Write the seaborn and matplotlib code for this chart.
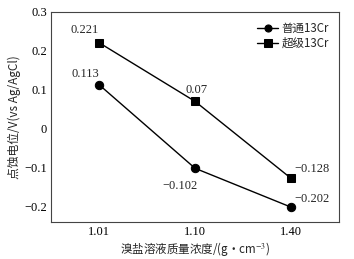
import matplotlib
matplotlib.use("Agg")
import matplotlib.pyplot as plt
import seaborn as sns
import pandas as pd

categories = ["1.01", "1.10", "1.40"]
ordinary = [0.113, -0.102, -0.202]
super_ = [0.221, 0.07, -0.128]
series_names = ["普通13Cr", "超级13Cr"]
yticks = [-0.2, -0.1, 0, 0.1, 0.2, 0.3]
ytick_labels = ["−0.2", "−0.1", "0", "0.1", "0.2", "0.3"]

sns.set_theme(style="white")
plt.rcParams['font.family'] = ['Liberation Serif', 'Noto Sans CJK SC', 'DejaVu Sans']
plt.rcParams['axes.unicode_minus'] = True
plt.rcParams['mathtext.fontset'] = 'stix'
cjk = ['Noto Sans CJK SC', 'DejaVu Sans']

df = pd.DataFrame({
    "x": list(range(len(categories))) * 2,
    "y": ordinary + super_,
    "s": [series_names[0]] * 3 + [series_names[1]] * 3,
})

fig = plt.figure(figsize=(3.54, 2.59), dpi=100)
ax = fig.add_axes([0.144, 0.143, 0.814, 0.811])
sns.lineplot(data=df, x="x", y="y", hue="s", style="s",
             palette=["black", "black"], markers=["o", "s"], dashes=False,
             markersize=6, linewidth=1.0, markeredgecolor="black", ax=ax)

ax.set_xlim(-0.5, 2.5)
ax.set_ylim(-0.24, 0.3)
ax.set_xticks(range(len(categories)))
ax.set_xticklabels(categories)
ax.set_yticks(yticks)
ax.set_yticklabels(ytick_labels)
ax.tick_params(direction="in", length=4, width=0.8, labelsize=9, colors="black", pad=3)
for sp in ax.spines.values():
    sp.set_color("#444444")
    sp.set_linewidth(0.8)

ax.set_xlabel("溴盐溶液质量浓度/(g·cm$^{-3}$)", fontsize=8.3, labelpad=1, family=cjk)
ax.set_ylabel("点蚀电位/V(vs Ag/AgCl)", fontsize=8.5, labelpad=2, family=cjk)

def fmt(v):
    s = ("%g" % v)
    return s.replace("-", "−")

offs_o = [(-10, 8), (-11, -13), (15, 6)]
offs_s = [(-10, 9), (1, 8), (15, 7)]
for i, v in enumerate(ordinary):
    ax.annotate(fmt(v), (i, v), xytext=offs_o[i], textcoords="offset points",
                ha="center", va="center", fontsize=9)
for i, v in enumerate(super_):
    ax.annotate(fmt(v), (i, v), xytext=offs_s[i], textcoords="offset points",
                ha="center", va="center", fontsize=9)

leg = ax.legend(loc="upper right", frameon=False, handlelength=1.8,
                handletextpad=0.3, labelspacing=0.15, borderaxespad=0.5, markerscale=0.85,
                prop={'family': cjk, 'size': 8.3})
fig.savefig("out.png", dpi=100)
